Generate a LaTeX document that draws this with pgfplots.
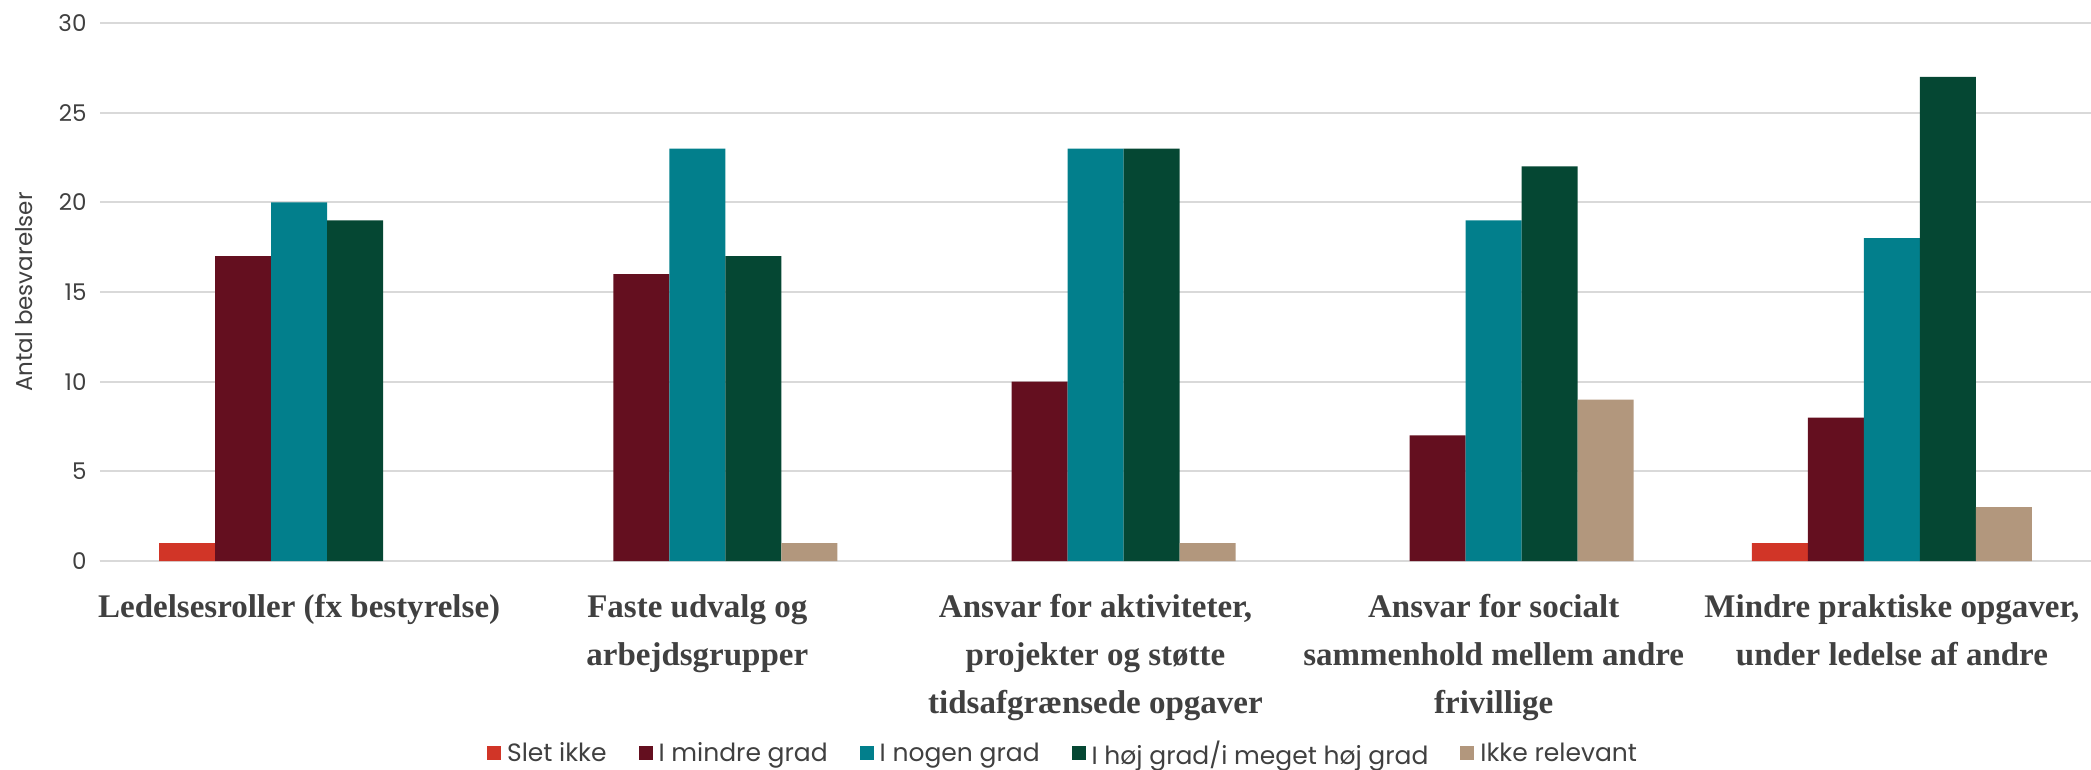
\documentclass[border=0pt]{standalone}
\usepackage{pgfplots}
\pgfplotsset{compat=1.18}
\usepackage{fontspec}
\setmainfont{Poppins}
\newfontfamily\catfont{Liberation Serif}
\definecolor{cRed}{HTML}{D13527}
\definecolor{cDred}{HTML}{640F1F}
\definecolor{cTeal}{HTML}{027F8C}
\definecolor{cGreen}{HTML}{054733}
\definecolor{cTan}{HTML}{B2977D}
\definecolor{cGrid}{HTML}{D9D9D9}
\definecolor{cText}{HTML}{404040}
\begin{document}
\begin{tikzpicture}
\begin{axis}[
  scale only axis,
  width=1991pt, height=538pt,
  xmin=-0.5, xmax=4.5, ymin=0, ymax=30,
  ybar=0pt, bar width=56pt,
  xtick={0,1,2,3,4},
  xticklabels={
    {Ledelsesroller (fx bestyrelse)},
    {Faste udvalg og\\arbejdsgrupper},
    {Ansvar for aktiviteter,\\projekter og støtte\\tidsafgrænsede opgaver},
    {Ansvar for socialt\\sammenhold mellem andre\\frivillige},
    {Mindre praktiske opgaver,\\under ledelse af andre}},
  xticklabel style={align=center, font=\catfont\bfseries\fontsize{33}{48}\selectfont, text=cText, yshift=-30pt},
  ytick={0,5,...,30},
  yticklabel style={font=\fontsize{23}{28}\selectfont, text=cText, xshift=-10pt},
  /pgf/number format/assume math mode=true,
  ymajorgrids, grid style={cGrid, line width=2pt},
  axis x line*=bottom, axis y line*=left,
  x axis line style={cGrid, line width=2pt, -},
  y axis line style={draw=none},
  major tick length=0pt,
  ylabel={Antal besvarelser},
  every axis y label/.style={at={(rel axis cs:0,0.5)}, rotate=90, anchor=center, yshift=76pt,
    font=\fontsize{23}{28}\selectfont, text=cText},
  legend style={at={(0.4837,-0.357)}, anchor=center, draw=none, fill=none,
    font=\fontsize{25}{30}\selectfont, text=cText,
    legend columns=-1,
    /tikz/every odd column/.append style={column sep=4pt},
    /tikz/every even column/.append style={column sep=30pt}},
  legend image code/.code={\fill[#1] (0pt,-7pt) rectangle (14pt,7pt);},
]
\addplot[fill=cRed, draw=none] coordinates {(0,1) (4,1)};
\addplot[fill=cDred, draw=none] coordinates {(0,17) (1,16) (2,10) (3,7) (4,8)};
\addplot[fill=cTeal, draw=none] coordinates {(0,20) (1,23) (2,23) (3,19) (4,18)};
\addplot[fill=cGreen, draw=none] coordinates {(0,19) (1,17) (2,23) (3,22) (4,27)};
\addplot[fill=cTan, draw=none] coordinates {(1,1) (2,1) (3,9) (4,3)};
\legend{Slet ikke, I mindre grad, I nogen grad, I høj grad/i meget høj grad, Ikke relevant}
\end{axis}
\pgfresetboundingbox
\path ([shift={(-100pt,-208pt)}]current axis.south west) rectangle ([shift={(0pt,23pt)}]current axis.north east);
\end{tikzpicture}
\end{document}
